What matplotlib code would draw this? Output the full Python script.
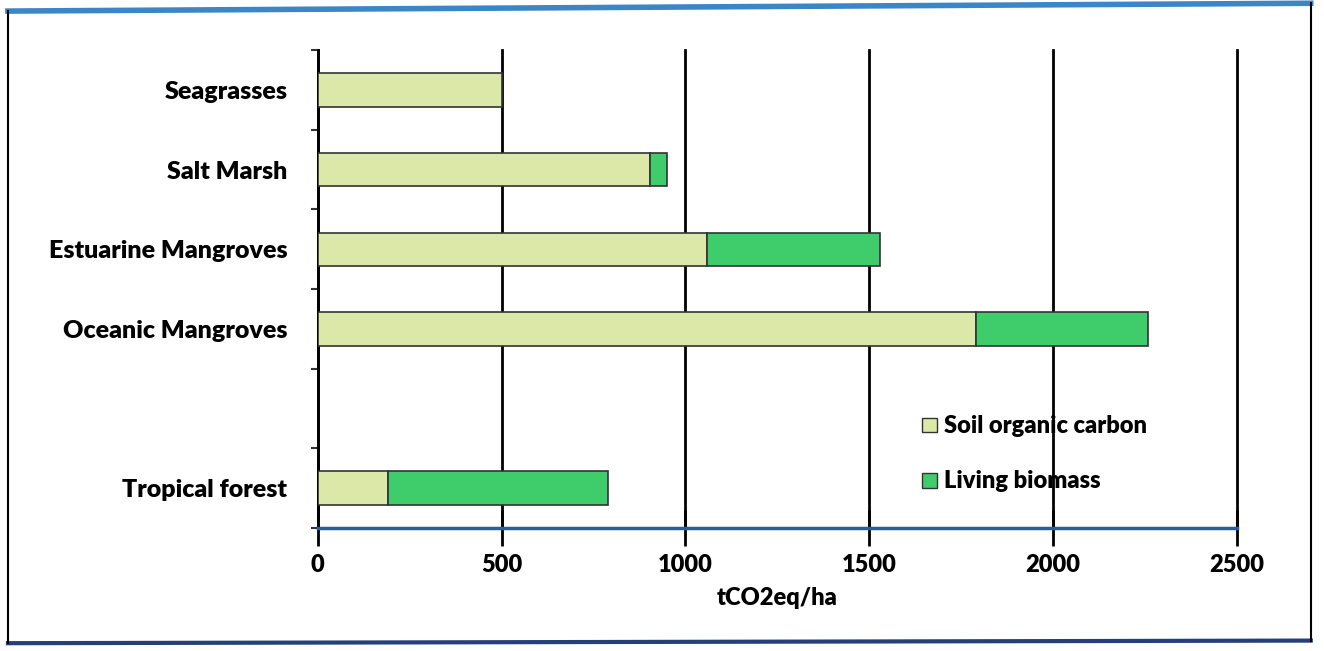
import matplotlib.pyplot as plt
import numpy as np
from matplotlib.lines import Line2D
from matplotlib.patches import Patch

plt.rcParams["font.family"] = ["Lato", "DejaVu Sans"]
plt.rcParams["font.weight"] = "heavy"

# carbon stocks per ecosystem, tCO2eq/ha (blank row separates the forest bar)
categories = ["Seagrasses", "Salt Marsh", "Estuarine Mangroves",
              "Oceanic Mangroves", "", "Tropical forest"]
soil_carbon = [500, 905, 1060, 1790, 0, 190]
living_biomass = [0, 45, 470, 470, 0, 600]
x_ticks = [0, 500, 1000, 1500, 2000, 2500]

SOIL_COLOR = "#dbe8a8"
LIVING_COLOR = "#3fcd6c"
EDGE = "#333333"
WEIGHT = "heavy"

fig = plt.figure(figsize=(13.24, 6.51), dpi=100)
ax = fig.add_axes([0.240, 0.189, 0.694, 0.734])

pos = np.arange(len(categories))
soil = np.array(soil_carbon, dtype=float)
living = np.array(living_biomass, dtype=float)
has_soil = soil > 0
has_living = living > 0

ax.barh(pos[has_soil], soil[has_soil], height=0.42, color=SOIL_COLOR,
        edgecolor=EDGE, linewidth=1.2, zorder=3)
ax.barh(pos[has_living], living[has_living], left=soil[has_living], height=0.42,
        color=LIVING_COLOR, edgecolor=EDGE, linewidth=1.2, zorder=3)

ax.set_xlim(0, 2500)
ax.set_ylim(len(categories) - 0.5, -0.5)

ax.set_xticks(x_ticks)
ax.set_xticklabels([str(t) for t in x_ticks], fontsize=17, fontweight=WEIGHT)
ax.tick_params(axis="x", direction="inout", length=26, width=2, color="black", pad=6)
ax.xaxis.grid(True, color="black", linewidth=2, zorder=1)
for gl in ax.get_xgridlines():
    gl.set_clip_on(False)

ax.set_yticks(pos)
ax.set_yticklabels(categories, fontsize=18, fontweight=WEIGHT)
ax.tick_params(axis="y", length=0, pad=22)
ax.set_yticks(np.arange(len(categories) + 1) - 0.5, minor=True)
ax.tick_params(axis="y", which="minor", length=5, width=1.5, color="#333333")

for side in ["top", "right"]:
    ax.spines[side].set_visible(False)
ax.spines["left"].set_linewidth(2)
ax.spines["left"].set_color("black")
ax.spines["bottom"].set_linewidth(2.5)
ax.spines["bottom"].set_color("#2e5c9a")
ax.spines["bottom"].set_zorder(4)

ax.set_xlabel("tCO2eq/ha", fontsize=17, fontweight=WEIGHT, labelpad=8)

handles = [Patch(facecolor=SOIL_COLOR, edgecolor=EDGE, linewidth=1),
           Patch(facecolor=LIVING_COLOR, edgecolor=EDGE, linewidth=1)]
ax.legend(handles, ["Soil organic carbon", "Living biomass"],
          loc="lower left", bbox_to_anchor=(0.635, 0.03), frameon=False,
          handlelength=0.6, handleheight=0.6, handletextpad=0.3,
          labelspacing=1.4, prop={"size": 17, "weight": WEIGHT})

# chart frame
fig.add_artist(Line2D([0.006, 0.99], [0.983, 0.995], color="#3b86c6", linewidth=4))
fig.add_artist(Line2D([0.006, 0.99], [0.012, 0.016], color="#243f7a", linewidth=3))
fig.add_artist(Line2D([0.006, 0.006], [0.012, 0.983], color="black", linewidth=1.5))
fig.add_artist(Line2D([0.99, 0.99], [0.016, 0.995], color="black", linewidth=1.5))

fig.savefig("out.png", dpi=100)
plt.close(fig)
